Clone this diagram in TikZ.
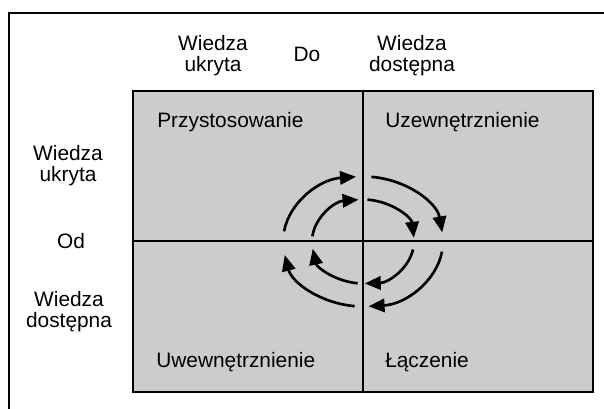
\documentclass[tikz,border=0pt]{standalone}
\usepackage{fontspec}
\setmainfont{Liberation Sans}
\usetikzlibrary{arrows.meta,calc}
\definecolor{boxgray}{RGB}{204,204,204}
\tikzset{
  lbl/.style={font=\fontsize{15.65}{15.75}\selectfont, align=center, inner sep=0pt},
  qlbl/.style={font=\fontsize{15.65}{15.75}\selectfont, inner sep=0pt, anchor=base west},
  cyc/.style={line width=2pt, -{Triangle[length=12pt,width=10pt]}},
  rule/.style={line width=1.5pt}
}
\begin{document}
\begin{tikzpicture}[x=0.75pt,y=0.75pt]
\useasboundingbox (0,0) rectangle (604,409);
% open outer frame (top and left edges)
\draw[rule] (604,396) -- (8.5,396) -- (8.5,0);
% the quadrant field
\node (grid) [draw, rule, fill=boxgray, minimum width=345pt, minimum height=225.75pt,
  inner sep=0pt, anchor=north west] at (132,319) {};
\draw[rule] (grid.north) -- (grid.south);
\draw[rule] (grid.west) -- (grid.east);
\coordinate (c) at (grid.center);
% column headings
\node[lbl] (colL) at (213,353) {Wiedza\\ukryta};
\node[lbl] (do) at (307,355) {Do};
\node[lbl] (colR) at (412,353) {Wiedza\\dostępna};
% row headings
\node[lbl] (rowT) at (68,243) {Wiedza\\ukryta};
\node[lbl] (od) at (71,168) {Od};
\node[lbl] (rowB) at (69,97) {Wiedza\\dostępna};
% quadrant names
\node[qlbl] (q1) at (157,281) {Przystosowanie};
\node[qlbl] (q2) at (385,281) {Uzewnętrznienie};
\node[qlbl] (q3) at (156,41) {Uwewnętrznienie};
\node[qlbl] (q4) at (385,41) {Łączenie};
% outer cycle
\draw[cyc] ($(c)+(171:80 and 65)$) arc[start angle=171, end angle=95, x radius=80, y radius=65];
\draw[cyc] ($(c)+(84:80 and 65)$) arc[start angle=84, end angle=8, x radius=80, y radius=65];
\draw[cyc] ($(c)+(-9:80 and 65)$) arc[start angle=-9, end angle=-86, x radius=80, y radius=65];
\draw[cyc] ($(c)+(-96:80 and 65)$) arc[start angle=-96, end angle=-168, x radius=80, y radius=65];
% inner cycle
\draw[cyc] ($(c)+(173:51 and 42)$) arc[start angle=173, end angle=95, x radius=51, y radius=42];
\draw[cyc] ($(c)+(85:51 and 42)$) arc[start angle=85, end angle=5, x radius=51, y radius=42];
\draw[cyc] ($(c)+(-11:51 and 42)$) arc[start angle=-11, end angle=-88, x radius=51, y radius=42];
\draw[cyc] ($(c)+(-96:51 and 42)$) arc[start angle=-96, end angle=-170, x radius=51, y radius=42];
\end{tikzpicture}
\end{document}
